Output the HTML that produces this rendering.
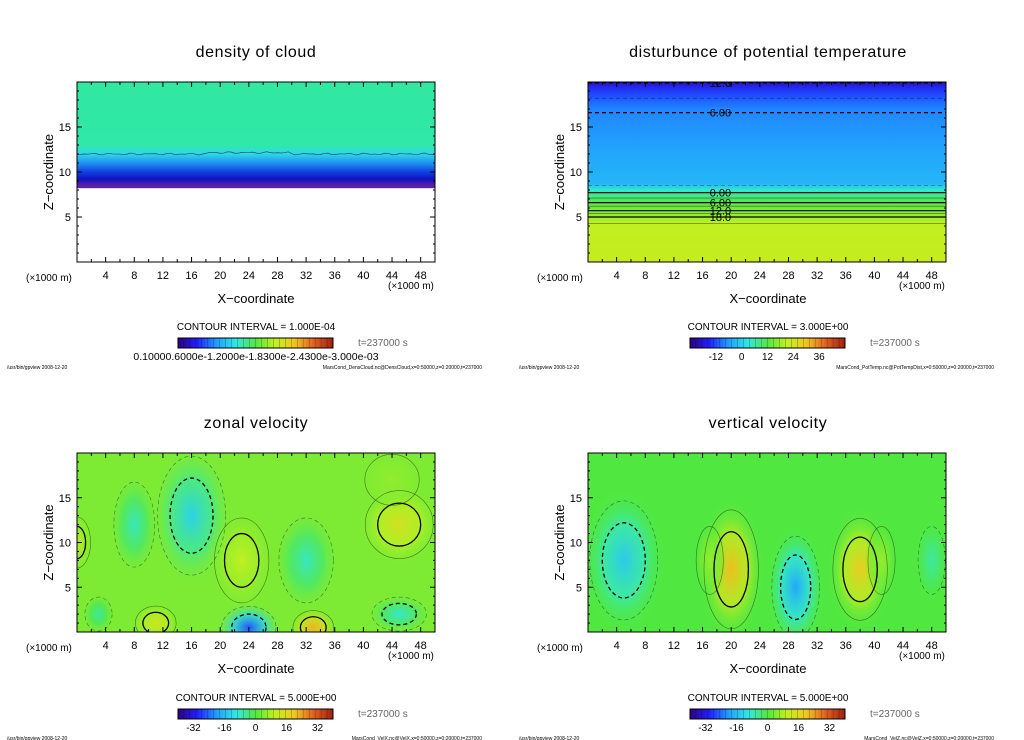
<!DOCTYPE html>
<html><head><meta charset="utf-8"><style>
html,body{margin:0;padding:0;background:#fff;}
svg{display:block;font-family:"Liberation Sans",sans-serif;}
</style></head><body>
<svg id="fig" width="1024" height="740" viewBox="0 0 1024 740" xmlns="http://www.w3.org/2000/svg">
<defs></defs>
</svg>
<script>
// ---- data ----
const xTicks = [4,8,12,16,20,24,28,32,36,40,44,48];
const zTicks = [5,10,15];
const panelTitles = ["density of cloud","disturbunce of potential temperature","zonal velocity","vertical velocity"];
const contourIntervals = ["1.000E-04","3.000E+00","5.000E+00","5.000E+00"];
const cbarLabels = [["0.10000.6000e-1.2000e-1.8300e-2.4300e-3.000e-03"],["-12","0","12","24","36"],["-32","-16","0","16","32"],["-32","-16","0","16","32"]];
const cbarLabelValues = [[0],[-12,0,12,24,36],[-32,-16,0,16,32],[-32,-16,0,16,32]];
const footers = ["MarsCond_DensCloud.nc@DensCloud,x=0:50000,z=0:20000,t=237000","MarsCond_PotTemp.nc@PotTempDist,x=0:50000,z=0:20000,t=237000","MarsCond_VelX.nc@VelX,x=0:50000,z=0:20000,t=237000","MarsCond_VelZ.nc@VelZ,x=0:50000,z=0:20000,t=237000"];
// density: vertical profile
const cloudZ = [20,13,12,11,10,9.2,8.6,8.3];
const cloudColors = ["#30e8a0","#30e8a8","#30d8e8","#2090f0","#1040e0","#1010c0","#5020a8","#6020a0"];
const cloudBaseZ = 8.2;
// potential temperature profile (colour value)
const ptZ = [20,19,17,12,8.7,8,7,6,5,4.3,0];
const ptVal = [-34,-28,-22,-19,-17,-9,-2,3,7,10,11];
const ptContourZ = [19.9,18.2,16.6,8.5,7.7,7.1,6.6,6.2,5.7,5.4,5.0,4.3];
const ptContourVal = [-12,-9,-6,-3,0,3,6,9,12,15,18,21];
// zonal velocity blobs
const uX = [16,23,45,32,24,33,11,45,0,3,8,44];
const uZ = [13,8,12,8,0.5,0.5,1,2,10,2,12,17];
const uV = [-13,10,14,-8,-26,22,13,-9,9,-6,-8,6];
const uRx = [5,4,5,4,4,3,3,4,2,2,3,4];
const uRz = [7,5,4,5,2.5,2,2,2,3,2,5,3];
// vertical velocity blobs
const wX = [5,20,29,38,48,17,41];
const wZ = [8,7,5,7,8,8,8];
const wV = [-14,21,-19,19,-6,6,6];
const wRx = [5,4,3.5,4,2,2,2];
const wRz = [7,7,6,6,4,4,4];

const panels = [
 {x0:77,x1:435,y0:82,y1:262,dy:0,cx:256},
 {x0:588,x1:946,y0:82,y1:262,dy:0,cx:768},
 {x0:77,x1:435,y0:453,y1:632,dy:371,cx:256},
 {x0:588,x1:946,y0:453,y1:632,dy:371,cx:768}
];
const svg = document.getElementById('fig');
const NS = "http://www.w3.org/2000/svg";
function mk(tag, attrs, parent, text){
  const e = document.createElementNS(NS, tag);
  for (const k in attrs) e.setAttribute(k, attrs[k]);
  if (text !== undefined) e.textContent = text;
  (parent||svg).appendChild(e);
  return e;
}
const cmapStops = [[-40,[48,0,128]],[-30,[32,32,255]],[-20,[32,160,255]],[-10,[48,232,224]],[0,[80,232,64]],[10,[192,240,32]],[20,[240,200,32]],[30,[224,96,32]],[40,[160,32,16]]];
function cmap(v){
  if (v<=-40) return 'rgb(48,0,128)'; if (v>=40) return 'rgb(160,32,16)';
  for (let i=0;i<cmapStops.length-1;i++){
    const a=cmapStops[i],b=cmapStops[i+1];
    if (v>=a[0]&&v<=b[0]){const t=(v-a[0])/(b[0]-a[0]);
      return 'rgb('+a[1].map((c,j)=>Math.round(c+(b[1][j]-c)*t)).join(',')+')';}
  }
}
const defs = svg.querySelector('defs');

panels.forEach((p,pi)=>{
  const g = mk('g',{});
  
  
  const sx = v=>p.x0+(p.x1-p.x0)*v/50;
  const sz = v=>p.y1-(p.y1-p.y0)*v/20;
  const clipId='clip'+pi;
  const cp=mk('clipPath',{id:clipId},defs); mk('rect',{x:p.x0,y:p.y0,width:p.x1-p.x0,height:p.y1-p.y0},cp);
  const field = mk('g',{'clip-path':'url(#'+clipId+')'},g);
  
  
  if (pi===0){
    const gid='gcloud';
    const lg=mk('linearGradient',{id:gid,x1:0,y1:0,x2:0,y2:1,gradientUnits:'userSpaceOnUse'},defs);
    lg.setAttribute('y1',sz(20)); lg.setAttribute('y2',sz(cloudBaseZ));
    cloudZ.forEach((z,i)=>mk('stop',{offset:((20-z)/(20-cloudBaseZ)).toFixed(3),'stop-color':cloudColors[i]},lg));
    mk('rect',{x:p.x0,y:sz(20),width:p.x1-p.x0,height:sz(cloudBaseZ)-sz(20),fill:'url(#'+gid+')'},field);
    let d='M'+sx(0)+','+sz(12);
    for(let x=0;x<=50;x+=0.5) d+=' L'+sx(x)+','+sz(12-0.06*Math.sin(x*2.3)-0.05*Math.cos(x*3.7)+(x>18&&x<30?0.15:0));
    mk('path',{d:d,fill:'none',stroke:'#205060','stroke-width':0.7},field);
  } else if (pi===1){
    const gid='gpt';
    const lg=mk('linearGradient',{id:gid,x1:0,x2:0,gradientUnits:'userSpaceOnUse'},defs);
    lg.setAttribute('y1',sz(20)); lg.setAttribute('y2',sz(0));
    ptZ.forEach((z,i)=>mk('stop',{offset:((20-z)/20).toFixed(3),'stop-color':cmap(ptVal[i])},lg));
    mk('rect',{x:p.x0,y:p.y0,width:p.x1-p.x0,height:p.y1-p.y0,fill:'url(#'+gid+')'},field);
    ptContourZ.forEach((z,i)=>{
      const v=ptContourVal[i];
      const major = v%6===0;
      const l=mk('line',{x1:p.x0,x2:p.x1,y1:sz(z),y2:sz(z),stroke:'#000','stroke-width':major?1.2:0.6,'stroke-opacity':major?1:0.55},field);
      if (v<0) l.setAttribute('stroke-dasharray','4,3');
      if (major){
        const lbl = v===0?'0.00':(Math.abs(v)>=10?Math.abs(v).toFixed(1):Math.abs(v).toFixed(2));
        const tx=sx(18.5);
        mk('text',{x:tx,y:sz(z)+4,'font-size':11,'text-anchor':'middle',fill:'#000',stroke:'none'},field,lbl);
      }
    });
  } else {
    const X=pi===2?uX:wX, Z=pi===2?uZ:wZ, V=pi===2?uV:wV, RX=pi===2?uRx:wRx, RZ=pi===2?uRz:wRz;
    const base = pi===2?4:0;
    mk('rect',{x:p.x0,y:p.y0,width:p.x1-p.x0,height:p.y1-p.y0,fill:cmap(base)},field);
    X.forEach((x,i)=>{
      const gid='rg'+pi+'_'+i;
      const rg=mk('radialGradient',{id:gid},defs);
      mk('stop',{offset:0,'stop-color':cmap(V[i]),'stop-opacity':1},rg);
      mk('stop',{offset:0.5,'stop-color':cmap(V[i]*0.55+base*0.45),'stop-opacity':0.8},rg);
      mk('stop',{offset:1,'stop-color':cmap(base),'stop-opacity':0},rg);
      const e=mk('ellipse',{cx:sx(x),cy:sz(Z[i]),rx:(sx(RX[i])-sx(0))*1.15,ry:(sz(0)-sz(RZ[i]))*1.15,fill:'url(#'+gid+')'},field);
      
      
    });
    X.forEach((x,i)=>{
      [0.95,0.6].forEach((f,k)=>{
        if (k===1 && Math.abs(V[i])<9) return;
        const c=mk('ellipse',{cx:sx(x),cy:sz(Z[i]),rx:(sx(RX[i])-sx(0))*f,ry:(sz(0)-sz(RZ[i]))*f,fill:'none',stroke:'#000','stroke-width':k===1?1.3:0.6,'stroke-opacity':k===1?1:0.5},field);
        if (V[i]<0) c.setAttribute('stroke-dasharray','4,3');
      });
    });
  }
  const fr=mk('rect',{x:p.x0,y:p.y0,width:p.x1-p.x0,height:p.y1-p.y0,fill:'none',stroke:'#000','stroke-width':1},g);
  
  
  for(let x=2;x<50;x+=2){
    const L = x%4===0?5:3;
    mk('line',{x1:sx(x),x2:sx(x),y1:p.y1,y2:p.y1-L,stroke:'#000'},g);
    mk('line',{x1:sx(x),x2:sx(x),y1:p.y0,y2:p.y0+L,stroke:'#000'},g);
  }
  for(let z=1;z<20;z++){
    const L = z%5===0?5:2;
    mk('line',{x1:p.x0,x2:p.x0+L,y1:sz(z),y2:sz(z),stroke:'#000'},g);
    mk('line',{x1:p.x1,x2:p.x1-L,y1:sz(z),y2:sz(z),stroke:'#000'},g);
  }
  xTicks.forEach(t=>{const e=mk('text',{x:sx(t),y:p.y1+17,'font-size':11,'text-anchor':'middle'},g,String(t));
     });
  zTicks.forEach(t=>{const e=mk('text',{x:p.x0-6,y:sz(t)+4,'font-size':11,'text-anchor':'end'},g,String(t));
     });
  const t1=mk('text',{x:p.x0-51,y:p.y1+19,'font-size':10},g,'(×1000 m)');
   
  const t2=mk('text',{x:p.x1-47,y:p.y1+27,'font-size':10},g,'(×1000 m)');
   
  const xt=mk('text',{x:p.cx,y:p.y1+41,'font-size':13,'text-anchor':'middle'},g,'X−coordinate');
   
  const zt=mk('text',{x:0,y:0,'font-size':13,'text-anchor':'middle',transform:'translate('+(p.x0-24)+','+((p.y0+p.y1)/2)+') rotate(-90)'},g,'Z−coordinate');
   
  const tt=mk('text',{x:p.cx,y:57+p.dy,'font-size':16,'text-anchor':'middle','letter-spacing':0.6},g,panelTitles[pi]);
   
  const ci=mk('text',{x:p.cx,y:330+p.dy,'font-size':10,'text-anchor':'middle'},g,'CONTOUR INTERVAL = '+contourIntervals[pi]);
   
  const cbx=p.cx-78, cbw=155, cby=338+p.dy;
  const cb=mk('g',{},g);
   
  const n=52;
  for(let i=0;i<n;i++){
    const v=-40+80*(i+0.5)/n;
    mk('rect',{x:cbx+cbw*i/n,y:cby,width:cbw/n+0.3,height:10,fill:cmap(v)},cb);
    if(i%2===0) mk('line',{x1:cbx+cbw*i/n,x2:cbx+cbw*i/n,y1:cby,y2:cby+10,stroke:'#000','stroke-opacity':0.35,'stroke-width':0.6},cb);
  }
  mk('rect',{x:cbx,y:cby,width:cbw,height:10,fill:'none',stroke:'#000','stroke-width':1},cb);
  const scaleC = pi<=1? (pi===1? v=>cbx+cbw*(v+24)/72 : v=>p.cx) : v=>cbx+cbw*(v+40)/80;
  cbarLabels[pi].forEach((l,i)=>{const e=mk('text',{x:scaleC(cbarLabelValues[pi][i]),y:cby+22,'font-size':pi===0?10.5:10,'text-anchor':'middle'},cb,l);
     });
  const tm=mk('text',{x:cbx+180,y:cby+8,'font-size':10,fill:'#666'},g,'t=237000 s');
   
  const f1=mk('text',{x:p.cx-249,y:369+p.dy,'font-size':5},g,'/usr/bin/gpview   2008-12-20');
   
  const f2=mk('text',{x:p.cx+226,y:369+p.dy,'font-size':5,'text-anchor':'end'},g,footers[pi]);
   
});
</script>
</body></html>
